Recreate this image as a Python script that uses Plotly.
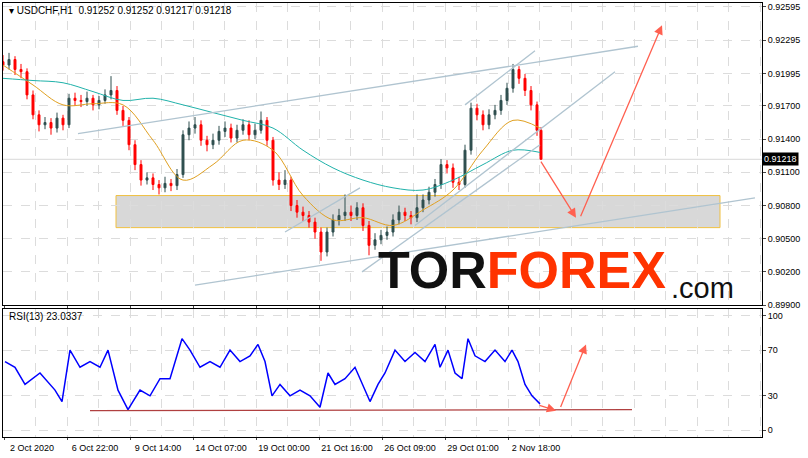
import plotly.graph_objects as go
from plotly.subplots import make_subplots

# H1 bars (sampled), x = bar position
bar_x = list(range(3, 540, 6)) + [541]
opens = [.9210, .9207, .9212, .9203, .9201, .9180, .9162, .9153, .9155, .9150,
         .9159, .9153, .9177, .9175, .9174, .9177, .9171, .9175, .9180, .9184,
         .9166, .9157, .9135, .9117, .9103, .9105, .9099, .9096, .9100, .9098,
         .9108, .9144, .9150, .9153, .9139, .9135, .9139, .9147, .9150, .9141,
         .9148, .9153, .9144, .9148, .9157, .9139, .9103, .9099, .9103, .9080,
         .9074, .9071, .9065, .9056, .9038, .9056, .9067, .9071, .9074, .9071,
         .9078, .9062, .9044, .9049, .9053, .9056, .9067, .9074, .9071, .9069,
         .9078, .9085, .9092, .9099, .9117, .9114, .9101, .9099, .9130, .9168,
         .9162, .9153, .9162, .9166, .9175, .9186, .9203, .9195, .9184, .9171,
         .9148]
closes = [.9207, .9212, .9203, .9201, .9180, .9162, .9153, .9155, .9150, .9159,
          .9153, .9177, .9175, .9174, .9177, .9171, .9175, .9180, .9184, .9166,
          .9157, .9135, .9117, .9103, .9105, .9099, .9096, .9100, .9098, .9108,
          .9144, .9150, .9153, .9139, .9135, .9139, .9147, .9150, .9141, .9148,
          .9153, .9144, .9148, .9157, .9139, .9103, .9099, .9103, .9080, .9074,
          .9071, .9065, .9056, .9038, .9056, .9067, .9071, .9074, .9071, .9078,
          .9062, .9044, .9049, .9053, .9056, .9067, .9074, .9071, .9069, .9078,
          .9085, .9092, .9099, .9117, .9114, .9101, .9099, .9130, .9168, .9162,
          .9153, .9162, .9166, .9175, .9186, .9203, .9195, .9184, .9171, .9148,
          .91218]
highs = [.9216, .9218, .9215, .9208, .9204, .9184, .9166, .9160, .9159, .9164,
         .9162, .9181, .9182, .9180, .9183, .9180, .9179, .9185, .9197, .9188,
         .9170, .9160, .9139, .9121, .9110, .9109, .9103, .9106, .9104, .9113,
         .9148, .9156, .9160, .9157, .9143, .9145, .9152, .9156, .9154, .9153,
         .9158, .9157, .9154, .9165, .9160, .9142, .9110, .9112, .9106, .9085,
         .9079, .9075, .9069, .9060, .9060, .9072, .9077, .9090, .9080, .9083,
         .9082, .9066, .9055, .9058, .9061, .9072, .9080, .9078, .9075, .9090,
         .9090, .9097, .9104, .9122, .9121, .9118, .9106, .9135, .9173, .9172,
         .9166, .9167, .9171, .9180, .9191, .9208, .9206, .9199, .9188, .9174,
         .9151]
lows = [.9202, .9203, .9198, .9195, .9176, .9158, .9147, .9149, .9144, .9146,
        .9148, .9150, .9170, .9169, .9170, .9166, .9167, .9172, .9176, .9162,
        .9152, .9130, .9112, .9098, .9099, .9094, .9090, .9092, .9093, .9094,
        .9105, .9139, .9145, .9134, .9129, .9131, .9135, .9142, .9137, .9137,
        .9144, .9139, .9140, .9145, .9134, .9098, .9094, .9095, .9075, .9069,
        .9066, .9060, .9050, .9030, .9034, .9052, .9062, .9066, .9066, .9067,
        .9057, .9035, .9040, .9045, .9049, .9052, .9063, .9066, .9063, .9065,
        .9074, .9081, .9088, .9095, .9109, .9096, .9094, .9096, .9126, .9157,
        .9148, .9149, .9158, .9162, .9171, .9182, .9190, .9179, .9166, .9143,
        .91217]

ma_x = [3, 33, 63, 93, 123, 153, 183, 213, 243, 273, 303, 333, 363, 393, 423, 453, 483, 513, 540]
ma_fast = [.9207, .9189, .9171, .9172, .9171, .9139, .9103, .9117, .9139, .9130,
           .9089, .9067, .9069, .9062, .9076, .9094, .9130, .9157, .9150]
ma_slow = [.9195, .9193, .9191, .9183, .9175, .9177, .9171, .9164, .9157, .9150,
           .9130, .9114, .9103, .9096, .9094, .9103, .9117, .9130, .9128]

rsi_x = [5, 15, 25, 40, 55, 62, 70, 80, 90, 100, 108, 118, 128, 140, 150, 160, 170,
         182, 190, 200, 210, 220, 230, 240, 250, 258, 265, 272, 280, 290, 300, 310,
         320, 328, 335, 345, 355, 365, 370, 378, 385, 395, 405, 415, 425, 435, 440,
         448, 455, 462, 468, 475, 485, 495, 505, 512, 518, 525, 532, 540]
rsi = [60, 55, 40, 50, 35, 25, 70, 55, 60, 55, 70, 35, 18, 35, 30, 45, 45,
       80, 70, 55, 60, 55, 70, 60, 65, 75, 60, 30, 40, 30, 35, 30,
       20, 50, 40, 45, 55, 35, 25, 40, 50, 70, 60, 68, 60, 75, 55,
       70, 50, 45, 80, 65, 60, 70, 60, 70, 60, 40, 30, 23]

tick_pos = [4, 67, 130, 193, 256, 319, 382, 445, 508]
tick_txt = ["2 Oct 2020", "6 Oct 22:00", "9 Oct 14:00", "14 Oct 07:00", "19 Oct 00:00",
            "21 Oct 16:00", "26 Oct 09:00", "29 Oct 01:00", "2 Nov 18:00"]
price_ticks = [0.89900, 0.90200, 0.90500, 0.90800, 0.91100, 0.91400, 0.91700, 0.91995, 0.92295, 0.92595]

fig = make_subplots(rows=2, cols=1, shared_xaxes=True)

fig.add_trace(go.Candlestick(x=bar_x, open=opens, high=highs, low=lows, close=closes,
                             increasing=dict(line=dict(color="#2f4f4f", width=1), fillcolor="#2f4f4f"),
                             decreasing=dict(line=dict(color="#ff0000", width=1), fillcolor="#ff0000"),
                             whiskerwidth=0, showlegend=False), row=1, col=1)
fig.add_trace(go.Scatter(x=ma_x, y=ma_fast, mode="lines", line=dict(color="#e0a020", width=1, shape="spline"),
                         showlegend=False), row=1, col=1)
fig.add_trace(go.Scatter(x=ma_x, y=ma_slow, mode="lines", line=dict(color="#20b2aa", width=1, shape="spline"),
                         showlegend=False), row=1, col=1)
fig.add_trace(go.Scatter(x=rsi_x, y=rsi, mode="lines", line=dict(color="#0000ff", width=1.5),
                         showlegend=False), row=2, col=1)

# drawings
trend_lines = [(78, .9145, 638, .9224), (465, .9171, 535, .9220), (415, .9062, 615, .9201),
               (195, .9008, 755, .9087), (285, .9056, 360, .9096), (362, .9020, 540, .9135)]
for x0, y0, x1, y1 in trend_lines:
    fig.add_shape(type="line", x0=x0, y0=y0, x1=x1, y1=y1, xref="x", yref="y",
                  line=dict(color="#b0c4d0", width=1.3))
fig.add_shape(type="rect", x0=116, x1=720, y0=.9060, y1=.9089, xref="x", yref="y",
              fillcolor="rgba(190,190,190,0.6)", line=dict(color="#f0c040", width=1), layer="below")
fig.add_shape(type="line", x0=3, x1=762, y0=.91218, y1=.91218, xref="x", yref="y",
              line=dict(color="#d8d8d8", width=1), layer="below")
fig.add_shape(type="line", x0=90, y0=17, x1=632, y1=18, xref="x2", yref="y2",
              line=dict(color="#b04040", width=1.3))

arrows = [("x", "y", 540, .9121, 576, .9069), ("x", "y", 580, .9069, 662, .9243),
          ("x2", "y2", 538, 22, 556, 17), ("x2", "y2", 560, 19, 586, 75)]
for xr, yr, x0, y0, x1, y1 in arrows:
    fig.add_annotation(x=x1, y=y1, ax=x0, ay=y0, xref=xr, yref=yr, axref=xr, ayref=yr,
                       showarrow=True, arrowhead=2, arrowsize=1.4, arrowwidth=1.3,
                       arrowcolor="#ff6050", text="")

fig.add_annotation(x=522, y=0.9022, xref="x", yref="y", showarrow=False,
                   text="<b>TOR<span style='color:#ff3300'>FOREX</span></b>",
                   font=dict(family="Liberation Sans Narrow, Liberation Sans", size=52, color="#111111"))
fig.add_annotation(x=702, y=0.9005, xref="x", yref="y", showarrow=False, text=".com",
                   font=dict(family="Liberation Sans Narrow, Liberation Sans", size=29, color="#111111"))

fig.add_annotation(x=0.005, y=1.0, xref="paper", yref="paper", xanchor="left", yanchor="top",
                   showarrow=False, text="▾ USDCHF,H1  0.91252 0.91252 0.91217 0.91218",
                   font=dict(size=10, color="#000000"))
fig.add_annotation(x=0.005, y=0.295, xref="paper", yref="paper", xanchor="left", yanchor="top",
                   showarrow=False, text="RSI(13) 23.0337", font=dict(size=10, color="#000000"))
fig.add_annotation(x=1.0, y=.91218, xref="paper", yref="y", xanchor="left", showarrow=False,
                   text="0.91218", bgcolor="#000000", font=dict(size=9, color="#ffffff"), borderpad=1)

grid = dict(showgrid=True, gridcolor="#dcdcdc", griddash="dash", gridwidth=1,
            showline=True, linecolor="#000000", linewidth=1, mirror=True, zeroline=False)
tfont = dict(family="Liberation Sans", size=9, color="#000000")
fig.update_xaxes(range=[3, 762], tickvals=tick_pos, ticktext=tick_txt, ticks="outside",
                 ticklen=2, minor=dict(dtick=31.5, tick0=4, showgrid=True, gridcolor="#dcdcdc",
                                       griddash="dash"),
                 rangeslider_visible=False, tickfont=tfont, **grid)
fig.update_xaxes(showticklabels=False, row=1, col=1)
fig.update_xaxes(showticklabels=True, ticklabelshift=28, row=2, col=1)
fig.update_yaxes(side="right", range=[0.8990, 0.92631], tickvals=price_ticks,
                 ticktext=[f"{v:.5f}" for v in price_ticks], ticks="outside", ticklen=3,
                 tickfont=tfont, domain=[0.304, 1], row=1, col=1, **grid)
fig.update_yaxes(side="right", range=[-6, 106], tickvals=[0, 30, 70, 100], ticks="outside",
                 ticklen=3, tickfont=tfont, domain=[0, 0.295], row=2, col=1, **grid)

fig.update_layout(width=808, height=458, margin=dict(l=3, r=46, t=3, b=21),
                  paper_bgcolor="#ffffff", plot_bgcolor="#ffffff",
                  font=dict(family="Liberation Sans", size=10), showlegend=False)

fig.write_html("out.html", config={"displayModeBar": False},
               post_script="document.body.style.margin='0';")
